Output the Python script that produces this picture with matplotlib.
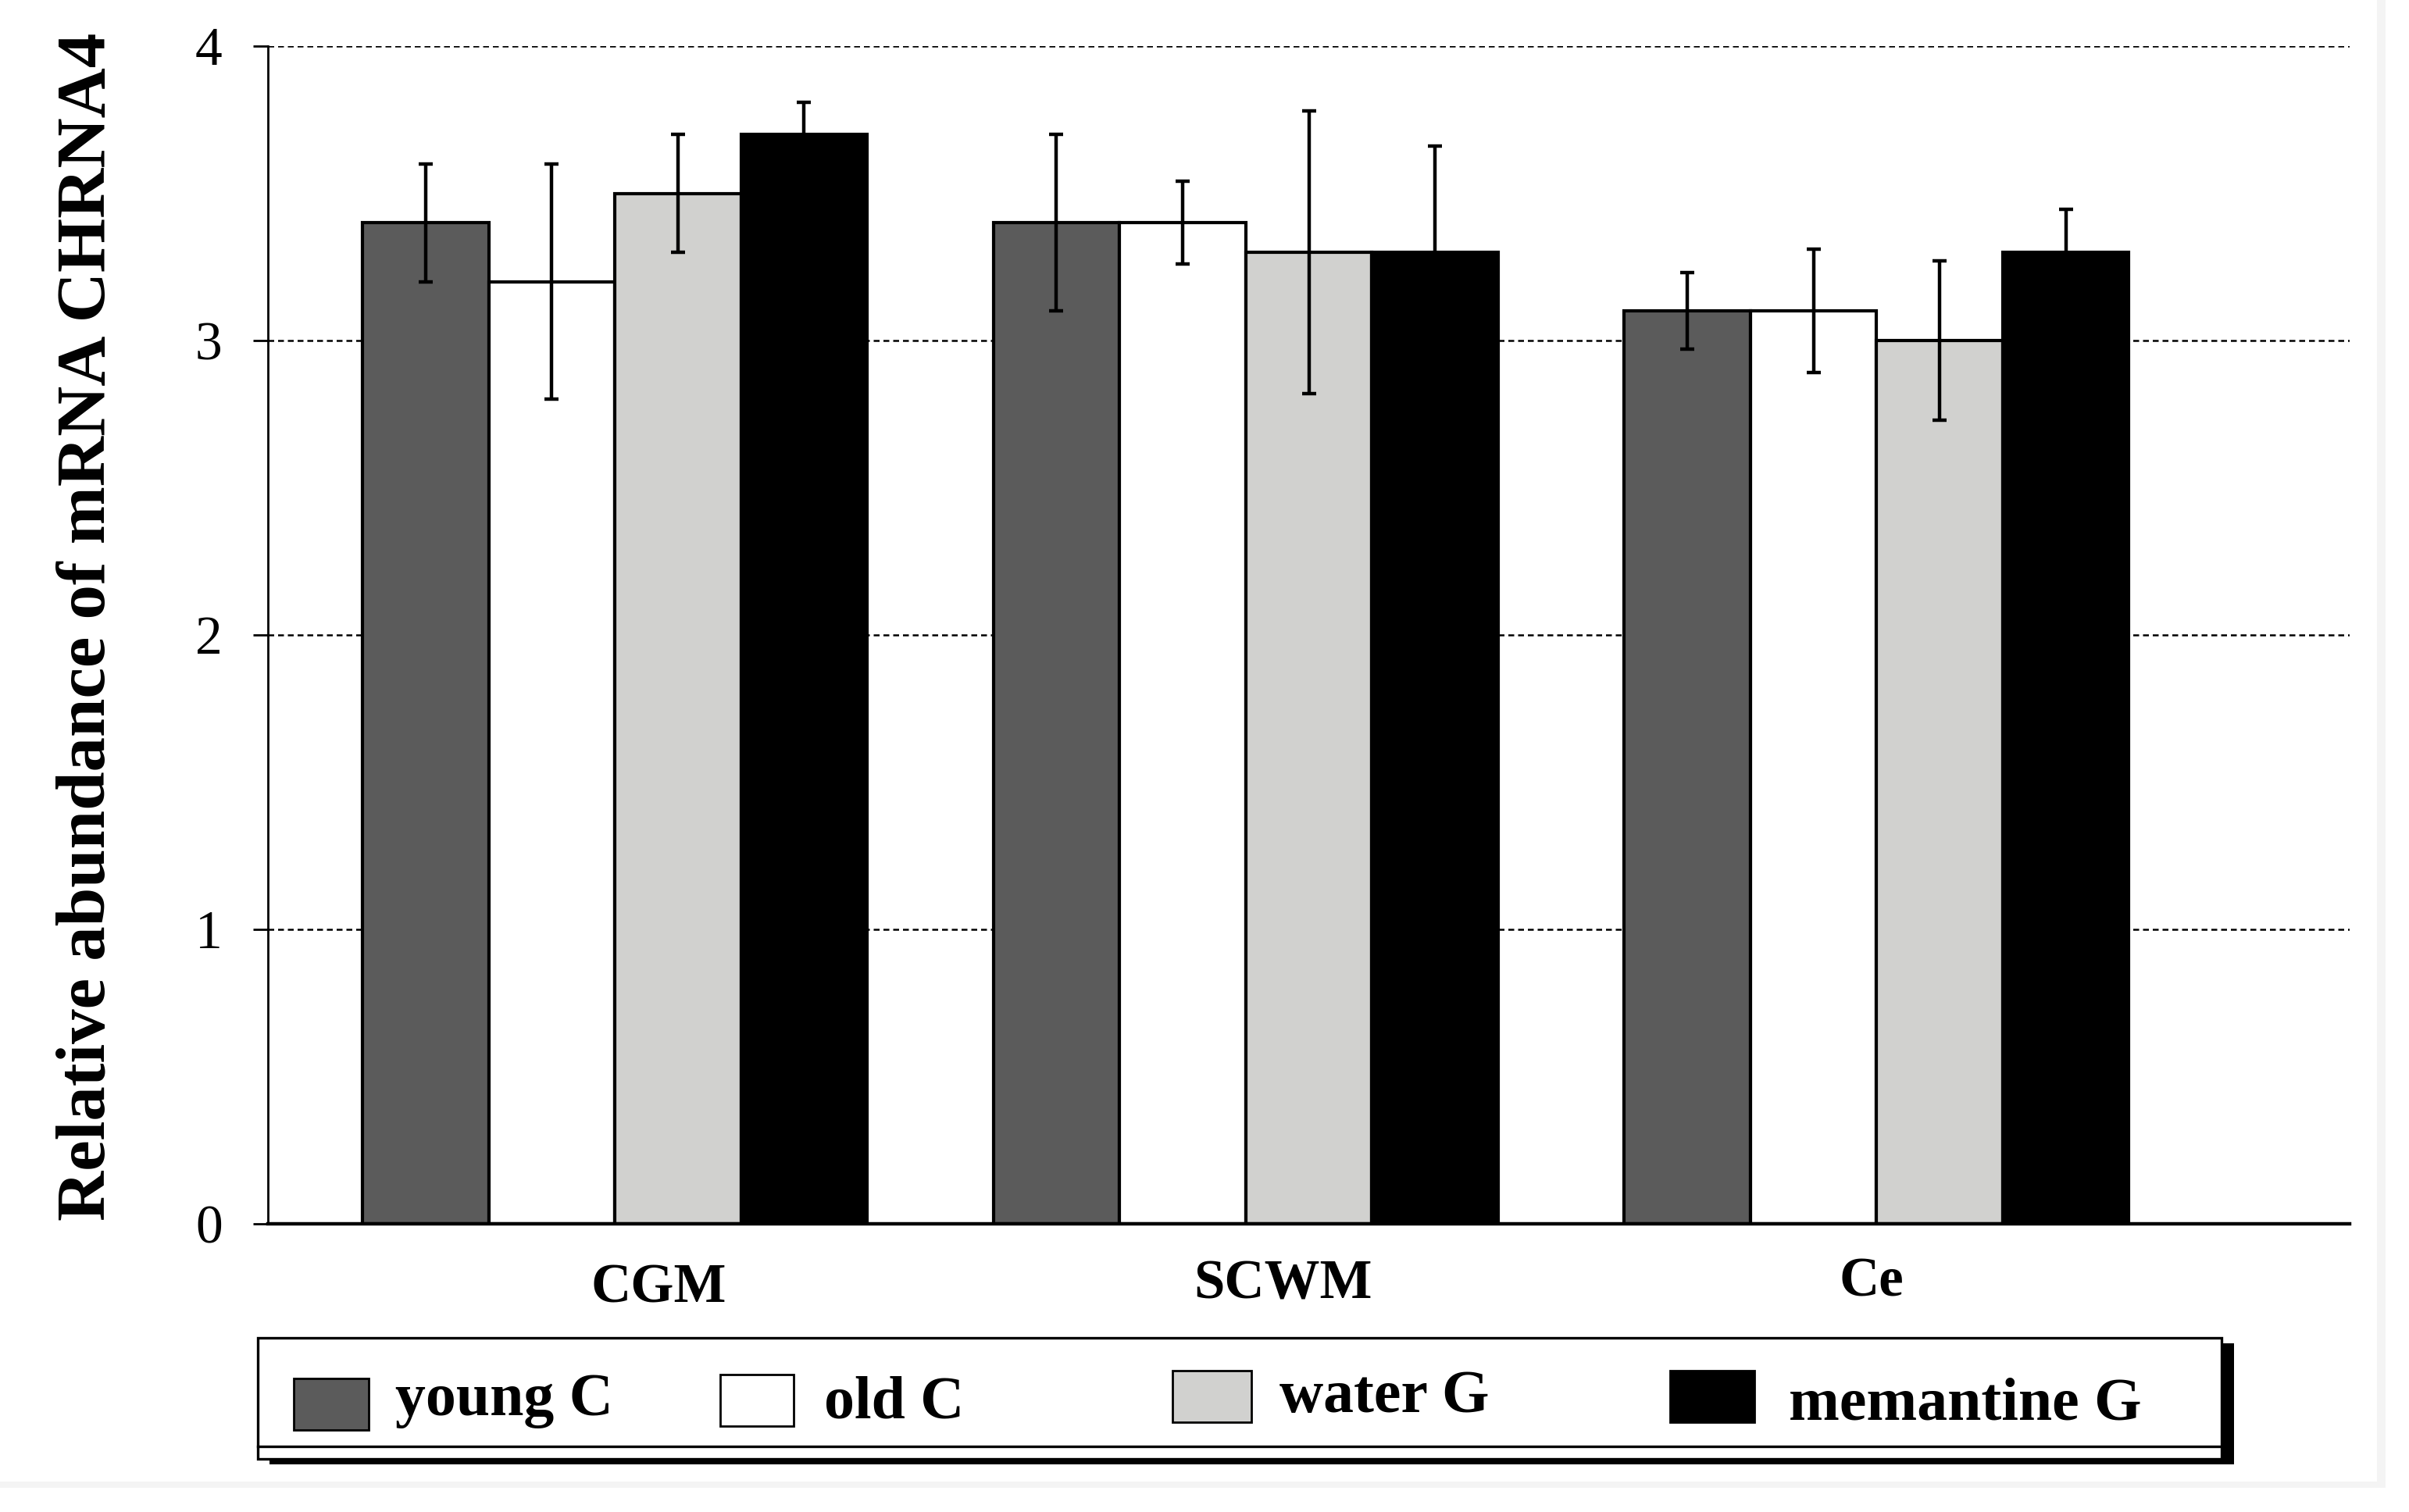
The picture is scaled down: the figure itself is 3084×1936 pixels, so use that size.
import matplotlib.pyplot as plt
import matplotlib.transforms as mtransforms
import numpy as np
from matplotlib.patches import Rectangle

regions = ['CGM', 'SCWM', 'Ce']
groups = ['young C', 'old C', 'water G', 'memantine G']

young_c = [3.4, 3.4, 3.1]
young_c_err = [0.2, 0.3, 0.13]
old_c = [3.2, 3.4, 3.1]
old_c_err = [0.4, 0.14, 0.21]
water_g = [3.5, 3.3, 3.0]
water_g_err = [0.2, 0.48, 0.27]
memantine_g = [3.7, 3.3, 3.3]
memantine_g_err = [0.11, 0.36, 0.145]

colors = ['#5b5b5b', '#ffffff', '#d1d1cf', '#000000']

plt.rcParams['font.family'] = ['Liberation Serif', 'DejaVu Serif']

W, H = 3084, 1936
fig = plt.figure(figsize=(W / 200, H / 200), dpi=200)
fig.patch.set_facecolor('white')


def fx(px):
    return px / W


def fy(py):
    return 1 - py / H


ax = fig.add_axes([fx(343), fy(1567), (3008 - 343) / W, (1567 - 59) / H])

x = np.arange(len(regions))
width = 0.2
series = [(young_c, young_c_err), (old_c, old_c_err),
          (water_g, water_g_err), (memantine_g, memantine_g_err)]
for i, (vals, errs) in enumerate(series):
    pos = x + (i - 1.5) * width
    ax.bar(pos, vals, width, color=colors[i], edgecolor='black',
           linewidth=1.5, zorder=2, label=groups[i])
    ax.errorbar(pos, vals, yerr=errs, fmt='none', ecolor='black',
                elinewidth=1.6, capsize=3.4, capthick=1.6, zorder=3)

ax.set_xlim(-0.55, 2.75)
ax.set_ylim(0, 4)
ax.set_yticks([0, 1, 2, 3, 4])
ax.set_xticks(x)
ax.set_xticklabels([])
ax.yaxis.grid(True, linestyle=(0, (3, 2)), color='black', linewidth=0.9)
ax.set_axisbelow(True)

# category labels, a little off-centre like in the original
label_shift = [(56, 51), (48, 46), (-6, 43)]  # pixels right, pixels down
for xi, name, (dx, dy) in zip(x, regions, label_shift):
    off = mtransforms.ScaledTranslation(dx / 200, -dy / 200, fig.dpi_scale_trans)
    ax.text(xi, 0, name, transform=ax.get_xaxis_transform() + off,
            ha='center', va='top', fontsize=25.5, fontweight='bold')

ax.spines['top'].set_visible(False)
ax.spines['right'].set_visible(False)
ax.spines['left'].set_linewidth(1.0)
ax.spines['bottom'].set_linewidth(1.6)
ax.tick_params(axis='y', direction='out', length=7, width=1, pad=14, labelsize=25)
ax.tick_params(axis='x', length=0)

ax.set_ylabel('Relative abundance of mRNA CHRNA4', fontsize=32, fontweight='bold')
ax.yaxis.set_label_coords(-190 / 2665, 0.507)

# legend box with shadow, drawn by hand
fig.add_artist(Rectangle((fx(345), fy(1875)), (2860 - 345) / W, (1875 - 1720) / H,
                         transform=fig.transFigure, facecolor='black', edgecolor='none'))
fig.add_artist(Rectangle((fx(330), fy(1868)), (2844 - 330) / W, (1868 - 1713) / H,
                         transform=fig.transFigure, facecolor='white',
                         edgecolor='black', linewidth=1.2))
fig.add_artist(plt.Line2D([fx(330), fx(2844)], [fy(1852), fy(1852)],
                          transform=fig.transFigure, color='black', linewidth=1.2))

patch_boxes = [(376, 1765, 472, 1831), (922, 1760, 1016, 1826),
               (1501, 1755, 1602, 1821), (2138, 1755, 2246, 1821)]
text_pos = [(506, 1812), (1055, 1815), (1638, 1808), (2290, 1817)]
for i, name in enumerate(groups):
    x0, y0, x1, y1 = patch_boxes[i]
    fig.add_artist(Rectangle((fx(x0), fy(y1)), (x1 - x0) / W, (y1 - y0) / H,
                             transform=fig.transFigure, facecolor=colors[i],
                             edgecolor='black', linewidth=1.0))
    tx, ty = text_pos[i]
    fig.text(fx(tx), fy(ty), name, fontsize=28, fontweight='bold',
             ha='left', va='baseline')

# faint page border seen on the scan
fig.add_artist(Rectangle((fx(3043), fy(1905)), 11 / W, 1905 / H,
                         transform=fig.transFigure, facecolor='#f4f4f4', edgecolor='none'))
fig.add_artist(Rectangle((0, fy(1905)), fx(3054), 8 / H,
                         transform=fig.transFigure, facecolor='#f4f4f4', edgecolor='none'))

fig.savefig('out.png', dpi=200)
